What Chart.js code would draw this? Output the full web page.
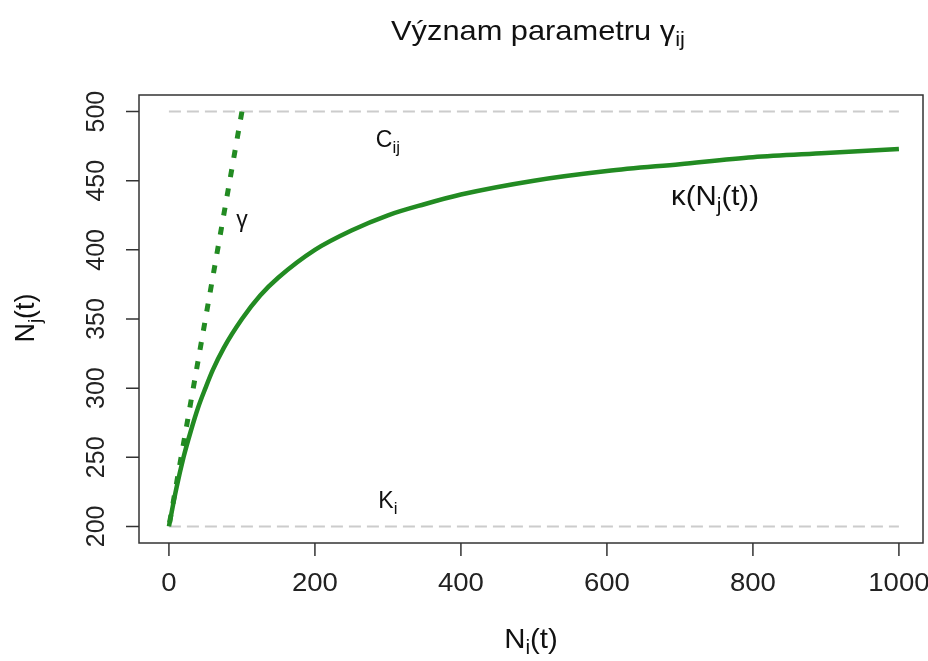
<!DOCTYPE html>
<html>
<head>
<meta charset="utf-8">
<script src="https://cdn.jsdelivr.net/npm/chart.js@4.4.1/dist/chart.umd.min.js"></script>
<style>
  html, body { margin: 0; padding: 0; background: #fff; }
  #wrap { width: 928px; height: 661px; position: relative; }
</style>
</head>
<body>
<div id="wrap"><canvas id="plot"></canvas></div>
<script>
// kappa(N_j) curve, read at a handful of N_i values
const curveX = [0, 10, 20, 30, 40, 50, 60, 75, 100, 125, 150, 200, 250, 300, 350, 400, 500, 600, 700, 800, 900, 1000];
const curveY = [200, 227, 250, 269, 286, 300, 313, 329, 350, 367, 380, 400, 414, 425, 433, 440, 450, 457, 462, 467, 470, 473];

// initial slope gamma (dotted)
const gammaX = [100, 0];
const gammaY = [500, 200];

// horizontal reference levels K_i and C_ij
const limitX = [0, 1000];
const levelK = 200;
const levelC = 500;

const xTicks = [0, 200, 400, 600, 800, 1000];
const yTicks = [200, 250, 300, 350, 400, 450, 500];

const GREEN = '#228B22';
const FONT = '"Liberation Sans", Arial, sans-serif';

const toPts = (xs, ys) => xs.map((x, i) => ({ x: x, y: Array.isArray(ys) ? ys[i] : ys }));

// draws text made of normal and subscript pieces, centred on (x, y);
// sx widens the glyphs a little
function richText(ctx, parts, x, y, size, sx) {
    sx = sx || 1;
    const subSize = Math.round(size * 0.72);
    let total = 0;
    parts.forEach(p => {
        ctx.font = (p.sub ? subSize : size) + 'px ' + FONT;
        p.w = ctx.measureText(p.t).width;
        total += p.w;
    });
    ctx.save();
    ctx.translate(x, y);
    ctx.scale(sx, 1);
    let cx = -total / 2;
    ctx.textAlign = 'left';
    ctx.textBaseline = 'middle';
    parts.forEach(p => {
        ctx.font = (p.sub ? subSize : size) + 'px ' + FONT;
        ctx.fillText(p.t, cx, p.sub ? size * 0.32 : 0);
        cx += p.w;
    });
    ctx.restore();
}

const rAxes = {
    id: 'rAxes',
    afterDraw(chart) {
        const ctx = chart.ctx;
        const a = chart.chartArea;
        const xs = chart.scales.x;
        const ys = chart.scales.y;
        ctx.save();
        ctx.strokeStyle = '#333';
        ctx.fillStyle = '#222';
        ctx.lineWidth = 1.5;
        ctx.strokeRect(a.left, a.top, a.right - a.left, a.bottom - a.top);

        // x axis
        ctx.beginPath();
        xTicks.forEach(v => {
            const px = xs.getPixelForValue(v);
            ctx.moveTo(px, a.bottom);
            ctx.lineTo(px, a.bottom + 13);
        });
        ctx.stroke();
        xTicks.forEach(v => richText(ctx, [{ t: String(v) }], xs.getPixelForValue(v), 584, 26, 1.06));

        // y axis, labels turned like base R
        ctx.beginPath();
        yTicks.forEach(v => {
            const py = ys.getPixelForValue(v);
            ctx.moveTo(a.left, py);
            ctx.lineTo(a.left - 13, py);
        });
        ctx.stroke();
        yTicks.forEach(v => {
            ctx.save();
            ctx.translate(97, ys.getPixelForValue(v));
            ctx.rotate(-Math.PI / 2);
            richText(ctx, [{ t: String(v) }], 0, 0, 25);
            ctx.restore();
        });

        // titles
        ctx.fillStyle = '#111';
        richText(ctx, [{ t: 'Význam parametru γ' }, { t: 'ij', sub: true }], 538, 32, 28, 1.1);
        richText(ctx, [{ t: 'N' }, { t: 'i', sub: true }, { t: '(t)' }], 531, 640, 28, 1.05);
        ctx.save();
        ctx.translate(27, 318);
        ctx.rotate(-Math.PI / 2);
        richText(ctx, [{ t: 'N' }, { t: 'j', sub: true }, { t: '(t)' }], 0, 0, 27);
        ctx.restore();

        // annotations in data coordinates
        const at = (x, y) => [xs.getPixelForValue(x), ys.getPixelForValue(y)];
        let p = at(300, 479);
        richText(ctx, [{ t: 'C' }, { t: 'ij', sub: true }], p[0], p[1], 23);
        p = at(300, 218);
        richText(ctx, [{ t: 'K' }, { t: 'i', sub: true }], p[0], p[1], 23);
        p = at(100, 421);
        richText(ctx, [{ t: 'γ' }], p[0], p[1], 23);
        p = at(748, 438);
        richText(ctx, [{ t: 'κ(N' }, { t: 'j', sub: true }, { t: '(t))' }], p[0], p[1], 28, 1.05);
        ctx.restore();
    }
};

new Chart(document.getElementById('plot'), {
    type: 'scatter',
    data: {
        datasets: [
            {
                data: toPts(gammaX, gammaY),
                showLine: true,
                borderColor: GREEN,
                borderWidth: 5,
                borderDash: [8, 11.5],
                pointRadius: 0,
                order: 0
            },
            {
                data: toPts(curveX, curveY),
                showLine: true,
                borderColor: GREEN,
                borderWidth: 4.5,
                cubicInterpolationMode: 'monotone',
                pointRadius: 0,
                order: 1
            },
            {
                data: toPts(limitX, levelC),
                showLine: true,
                borderColor: '#cccccc',
                borderWidth: 2,
                borderDash: [12, 6],
                pointRadius: 0,
                order: 2
            },
            {
                data: toPts(limitX, levelK),
                showLine: true,
                borderColor: '#cccccc',
                borderWidth: 2,
                borderDash: [12, 6],
                pointRadius: 0,
                order: 2
            }
        ]
    },
    options: {
        responsive: true,
        maintainAspectRatio: false,
        animation: false,
        layout: { padding: { left: 139, top: 95, right: 5, bottom: 118 } },
        plugins: { legend: { display: false }, tooltip: { enabled: false } },
        scales: {
            x: { type: 'linear', display: false, min: -41, max: 1033 },
            y: { type: 'linear', display: false, min: 188, max: 512 }
        }
    },
    plugins: [rAxes]
});
</script>
</body>
</html>
